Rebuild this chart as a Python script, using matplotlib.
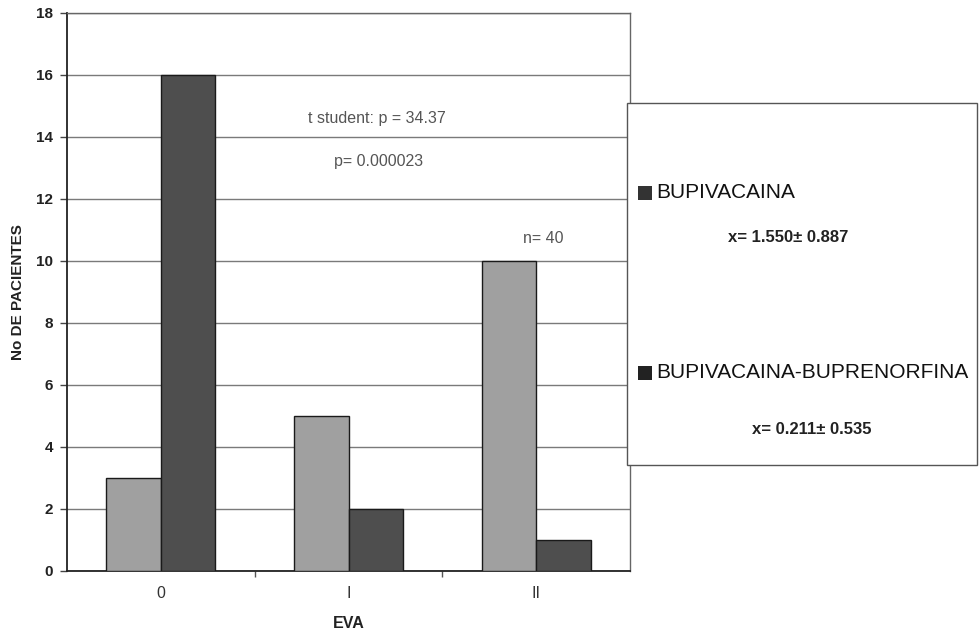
import matplotlib
matplotlib.use("Agg")
import matplotlib.pyplot as plt
from matplotlib.patches import Rectangle
import numpy as np

plt.rcParams['font.family'] = ['Liberation Sans', 'DejaVu Sans']

# Data
categories = ["0", "I", "II"]
bupivacaina = [3, 5, 10]
bupi_bupre = [16, 2, 1]
series_names = ["BUPIVACAINA", "BUPIVACAINA-BUPRENORFINA"]
series_stats = ["x= 1.550\u00b1 0.887", "x= 0.211\u00b1 0.535"]
y_ticks = [0, 2, 4, 6, 8, 10, 12, 14, 16, 18]

light = "#a0a0a0"
dark = "#4e4e4e"

fig = plt.figure(figsize=(9.8, 6.35), dpi=100)
ax = fig.add_axes([67 / 980, 1 - 571 / 635, 563 / 980, 558 / 635])

x = np.arange(len(categories))
w = 0.29
ax.bar(x - w / 2, bupivacaina, width=w, color=light, edgecolor="#1a1a1a",
       linewidth=1.0, zorder=3)
ax.bar(x + w / 2, bupi_bupre, width=w, color=dark, edgecolor="#1a1a1a",
       linewidth=1.0, zorder=3)

ax.set_xlim(-0.5, len(categories) - 0.5)
ax.set_ylim(0, 18)
ax.set_yticks(y_ticks)
ax.set_yticklabels([str(t) for t in y_ticks], fontsize=11, fontweight="bold",
                   color="#222222")
ax.set_xticks(x)
ax.set_xticklabels(categories, fontsize=11.5, color="#333333")
ax.set_xticks([0.5, 1.5], minor=True)
ax.tick_params(axis="x", which="major", length=0, pad=11)
ax.tick_params(axis="x", which="minor", length=4, width=1, color="#555555")
ax.tick_params(axis="y", length=5, width=1, color="#444444", pad=5)

ax.yaxis.grid(True, color="#7a7a7a", linewidth=1.0, zorder=0)
ax.set_axisbelow(True)

for side in ["left", "bottom"]:
    ax.spines[side].set_color("#222222")
    ax.spines[side].set_linewidth(1.3)
for side in ["top", "right"]:
    ax.spines[side].set_color("#666666")
    ax.spines[side].set_linewidth(1.0)

# Axis titles
ax.set_xlabel("EVA", fontsize=11.5, fontweight="bold", color="#222222")
ax.xaxis.set_label_coords(0.5, -(623 - 571) / 558)
ax.xaxis.label.set_va("center")
ax.set_ylabel("No DE PACIENTES", fontsize=11, fontweight="bold",
              color="#222222")
ax.yaxis.set_label_coords(-(67 - 18) / 563, 0.5)
ax.yaxis.label.set_va("center")

# Statistical annotations
ax.text(1.15, 14.6, "t student: p = 34.37", fontsize=11.5, color="#555555",
        ha="center", va="center")
ax.text(1.16, 13.2, "p= 0.000023", fontsize=11.5, color="#555555",
        ha="center", va="center")
ax.text(2.04, 10.74, "n= 40", fontsize=11.5, color="#555555",
        ha="center", va="center")

# Legend box with group statistics
def fx(px):
    return px / 980

def fy(py):
    return 1 - py / 635

fig.patches.append(Rectangle((fx(627), fy(465)), fx(977) - fx(627),
                             fy(103) - fy(465), transform=fig.transFigure,
                             facecolor="white", edgecolor="#555555",
                             linewidth=1.0, zorder=5))

entry_y = [193, 373]
stat_pos = [(788, 238), (812, 430)]
square_colors = ["#333333", "#222222"]
for name, stat, ey, (sx, sy), sc in zip(series_names, series_stats, entry_y,
                                       stat_pos, square_colors):
    fig.patches.append(Rectangle((fx(638), fy(ey + 7)), fx(14), 14 / 635,
                                 transform=fig.transFigure, facecolor=sc,
                                 edgecolor="none", zorder=6))
    fig.text(fx(656), fy(ey), name, fontsize=15, color="#111111",
             ha="left", va="center", zorder=7)
    fig.text(fx(sx), fy(sy), stat, fontsize=12, fontweight="bold",
             color="#222222", ha="center", va="center", zorder=7)

fig.savefig("out.png", dpi=100, facecolor="white")
